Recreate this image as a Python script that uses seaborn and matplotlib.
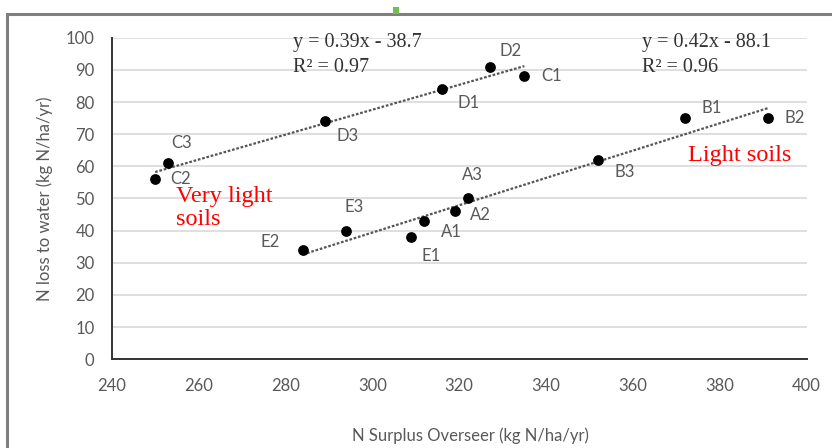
import matplotlib
matplotlib.use("Agg")
import matplotlib.pyplot as plt
import seaborn as sns
import pandas as pd
from matplotlib.patches import Rectangle

# ---- data ----
site_labels = ["C2", "C3", "D3", "D1", "D2", "C1",
               "E2", "E3", "E1", "A1", "A2", "A3", "B3", "B1", "B2"]
n_surplus = [250, 253, 289, 316, 327, 335,
             284, 294, 309, 312, 319, 322, 352, 372, 391]
n_loss = [56, 61, 74, 84, 91, 88,
          34, 40, 38, 43, 46, 50, 62, 75, 75]
soil_group = ["upper"] * 6 + ["lower"] * 9
eq_upper = ["y = 0.39x - 38.7", "R\u00b2 = 0.97"]
eq_lower = ["y = 0.42x - 88.1", "R\u00b2 = 0.96"]
soil_notes = ["Very light\nsoils", "Light soils"]
x_ticks = [240, 260, 280, 300, 320, 340, 360, 380, 400]
y_ticks = [0, 10, 20, 30, 40, 50, 60, 70, 80, 90, 100]
x_title = "N Surplus Overseer (kg N/ha/yr)"
y_title = "N loss to water (kg N/ha/yr)"

df = pd.DataFrame({"label": site_labels, "x": n_surplus, "y": n_loss,
                   "group": soil_group})

sns.set_theme(style="white")
plt.rcParams["font.family"] = ["Lato", "DejaVu Sans"]

W, H = 832, 448
fig = plt.figure(figsize=(W / 100, H / 100), dpi=100)
ax = fig.add_axes([111.7 / W, 1 - 359.3 / H, (806.7 - 111.7) / W, (359.3 - 37.7) / H])

# grid
ax.set_axisbelow(True)
ax.yaxis.grid(True, color="#d9d9d9", lw=1.2)
ax.xaxis.grid(False)

grey = "#595959"
for g in ["upper", "lower"]:
    sub = df[df["group"] == g]
    sns.regplot(data=sub, x="x", y="y", ax=ax, scatter=False, ci=None,
                truncate=True,
                line_kws=dict(color="#555555", lw=1.6, ls=(0, (1.2, 0.8))))
sns.scatterplot(data=df, x="x", y="y", ax=ax, color="black", s=60,
                edgecolor="black", linewidth=0, zorder=5)

# label offsets in pixels (dx, dy) relative to the point (dy positive = up)
offsets = {"C2": (25, 0), "C3": (13, 20), "D3": (23, -15), "D1": (27, -14),
           "D2": (21, 16), "C1": (27, 0), "E2": (-33, 8), "E3": (8, 24),
           "E1": (20, -19), "A1": (27, -11), "A2": (26, -4), "A3": (5, 23),
           "B3": (26, -12), "B1": (27, 10), "B2": (27, 0)}
for lab, xv, yv in zip(site_labels, n_surplus, n_loss):
    dx, dy = offsets[lab]
    ax.annotate(lab, (xv, yv), xytext=(dx, dy), textcoords="offset pixels",
                ha="center", va="center", fontsize=12, color=grey, zorder=6)

serif = ["Liberation Serif", "DejaVu Serif"]
eq_kw = dict(ha="left", va="center", fontsize=14.5, color="#333333", family=serif)
fig.text(293 / W, 1 - 43 / H, eq_upper[0], **eq_kw)
fig.text(293 / W, 1 - 67 / H, eq_upper[1], **eq_kw)
fig.text(641.7 / W, 1 - 43 / H, eq_lower[0], **eq_kw)
fig.text(641.7 / W, 1 - 67 / H, eq_lower[1], **eq_kw)
fig.text(176 / W, 1 - 208 / H, soil_notes[0], ha="left", va="center",
         fontsize=17.5, color="#ff0000", family=serif, linespacing=1.15)
fig.text(688 / W, 1 - 155 / H, soil_notes[1], ha="left", va="center",
         fontsize=17.5, color="#ff0000", family=serif)

ax.set_xlim(240, 400)
ax.set_ylim(0, 100)
ax.set_xticks(x_ticks)
ax.set_yticks(y_ticks)
ax.tick_params(axis="both", which="major", direction="out", length=4.3,
               width=1.1, color="#333333", labelsize=12, labelcolor=grey)
ax.tick_params(axis="x", pad=9)
ax.tick_params(axis="y", pad=8)
for side in ["top", "right"]:
    ax.spines[side].set_visible(False)
for side in ["left", "bottom"]:
    ax.spines[side].set_color("#333333")
    ax.spines[side].set_linewidth(1.4)

ax.set_xlabel(x_title, fontsize=12, color=grey)
ax.set_ylabel(y_title, fontsize=12, color=grey)
ax.xaxis.set_label_coords((470 - 111.7) / 695, (359.3 - 427) / 321.6)
ax.yaxis.set_label_coords((53 - 111.7) / 695, 0.5)

# outer chart border (partially cropped in the reference)
fig.patches.append(Rectangle((7 / W, -0.1), 1.2, (1 - 14 / H) + 0.1,
                             transform=fig.transFigure, fill=False,
                             edgecolor="#7f7f7f", lw=2.2, zorder=0))
fig.patches.append(Rectangle((393 / W, 1 - 14 / H), 6 / W, 7 / H,
                             transform=fig.transFigure, facecolor="#6cc24a",
                             edgecolor="none", zorder=1))

fig.savefig("out.png", dpi=100, facecolor="white")
